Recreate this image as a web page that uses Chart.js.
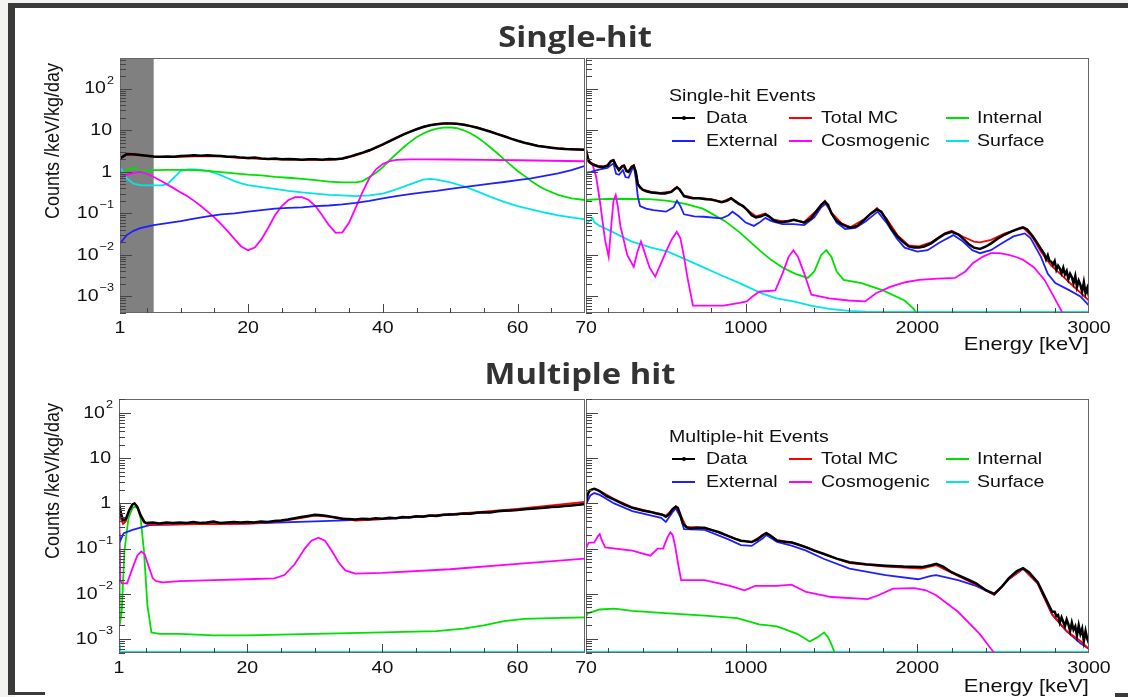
<!DOCTYPE html>
<html>
<head>
<meta charset="utf-8">
<title>Single-hit / Multiple hit energy spectra</title>
<script src="https://cdn.jsdelivr.net/npm/chart.js@4.4.1/dist/chart.umd.min.js"></script>
<style>
  html, body { margin: 0; padding: 0; }
  body { width: 1128px; height: 697px; position: relative; overflow: hidden; background: #f3f3f1; font-family: "Liberation Sans", Arial, sans-serif; }
  #sheet { position: absolute; left: 15px; top: 8px; width: 1113px; height: 689px; background: #fff; }
  .blk { position: absolute; background: #3a3a3a; }
  canvas { position: absolute; }
  .title { position: absolute; font-family: "Open Sans", sans-serif; font-weight: 700; font-size: 28px; color: #333; white-space: nowrap; transform: translate(-50%, -50%) scaleX(1.17); }
  .ytitle { position: absolute; font-size: 18px; color: #111; white-space: nowrap; transform: translate(-50%, -50%) rotate(-90deg) scaleY(1.15); }
  .xtitle { position: absolute; font-size: 19px; color: #111; white-space: nowrap; line-height: 22px; transform-origin: right center; transform: scaleX(1.15); }
  .leg { position: absolute; font-size: 17px; color: #111; white-space: nowrap; line-height: 20px; transform-origin: left center; transform: scaleX(1.15); }
  .sample { position: absolute; height: 2px; width: 23px; }
  .dot { position: absolute; width: 4px; height: 4px; background: #000; border-radius: 2px; }
</style>
</head>
<body>
<div id="sheet"></div>
<div class="blk" style="left:8px;top:3px;width:1120px;height:5px"></div>
<div class="blk" style="left:8px;top:3px;width:7px;height:692px"></div>
<div class="blk" style="left:8px;top:692px;width:37px;height:3px"></div>
<div class="blk" style="left:1115px;top:693px;width:13px;height:4px"></div>

<script>
// ---- series names / colours (ROOT palette) ----
const seriesNames = ['Data', 'Total MC', 'External', 'Cosmogenic', 'Internal', 'Surface'];
const seriesColors = ['#000000', '#ff0000', '#2020ff', '#ff00ff', '#00e000', '#00e5e5'];
const legendOrder = ['Data', 'Total MC', 'Internal', 'External', 'Cosmogenic', 'Surface'];

// ---- axis ticks ----
const lowTickLabels = [1, 20, 40, 60];
const lowTicksMajor = [20, 40, 60];
const lowTicksMinor = [5, 10, 15, 25, 30, 35, 45, 50, 55, 65];
const highTickLabels = [70, 1000, 2000, 3000];
const highTicksMajor = [1000, 2000];
const highTicksMinor = [200, 400, 600, 800, 1200, 1400, 1600, 1800, 2200, 2400, 2600, 2800];
const shadedRange = [1, 6];

// ================= SINGLE-HIT, 1-70 keV =================
const lowGrid = [1,2,3,4,5,6,7,8,9,10,11,12,13,14,15,16,17,18,19,20,21,22,23,24,25,26,27,28,29,30,31,32,33,34,35,
  36,37,38,39,40,41,42,43,44,45,46,47,48,49,50,51,52,53,54,55,56,57,58,59,60,61,62,63,64,65,66,67,68,69,70];
const sLoData = [2.1,2.7,2.65,2.55,2.45,2.35,2.3,2.35,2.3,2.4, 2.45,2.5,2.45,2.5,2.45,2.4,2.3,2.3,2.2,2.15,
  2.2,2.1,2.05,2.1,2.0,2.05,2.0,1.95,2.0,2.0, 1.95,2.05,2.0,2.1,2.3,2.6,2.9,3.3,3.9,4.6,
  5.5,6.6,7.9,9.2,10.6,12.0,13.2,14.0,14.6,14.6, 14.3,13.6,12.6,11.5,10.3,9.2,8.1,7.2,6.3,5.6,
  5.0,4.6,4.2,4.0,3.8,3.65,3.55,3.5,3.45,3.4];
const sLoMcE = [1,2,4,6,8,10,12,14,16,18,20,24,28,32,34,36,38,40,42,44,46,48,50,52,54,56,58,60,62,64,66,68,70];
const sLoMc = [2.0,2.6,2.5,2.3,2.25,2.3,2.35,2.4,2.35,2.2,2.1,2.0,1.95,1.95,2.05,2.5,3.2,4.5,6.5,9.2,12.2,14.3,14.8,13.8,11.7,9.3,7.2,5.6,4.6,4.0,3.7,3.5,3.4];
const sLoExtE = [1,2,3,4,5,6,8,10,12,14,16,18,20,22,24,26,28,30,32,34,36,38,40,42,44,46,48,50,52,54,56,58,60,62,64,66,68,70];
const sLoExt = [0.019,0.03,0.038,0.044,0.048,0.052,0.058,0.065,0.075,0.085,0.095,0.1,0.11,0.12,0.13,0.135,0.14,0.15,0.155,0.165,
  0.18,0.2,0.23,0.26,0.29,0.32,0.35,0.39,0.43,0.47,0.52,0.57,0.63,0.7,0.8,0.92,1.1,1.4];
const sLoCosE = [1,2,3,4,5,6,7,8,9,10,11,12,13,14,15,16,17,18,19,20,21,22,23,24,25,26,27,28,29,30,31,32,33,34,35,36,37,38,39,40,41,42,44,46,50,55,60,65,70];
const sLoCos = [0.75,0.85,0.95,1.0,0.9,0.75,0.62,0.5,0.4,0.32,0.26,0.2,0.15,0.11,0.08,0.055,0.037,0.024,0.016,0.013,
  0.015,0.024,0.045,0.09,0.15,0.21,0.245,0.245,0.21,0.15,0.09,0.052,0.034,0.035,0.06,0.14,0.33,0.7,1.15,1.55,
  1.8,1.95,2.0,2.0,1.98,1.95,1.9,1.85,1.8];
const sLoIntE = [1,2,3,4,5,6,8,10,12,14,16,18,20,22,24,26,28,30,32,34,36,37,38,39,40,41,42,43,44,45,46,47,48,49,50,
  51,52,53,54,55,56,57,58,59,60,61,62,63,64,66,68,70];
const sLoInt = [0.72,1.1,1.25,1.05,1.05,1.1,1.12,1.12,1.1,1.05,0.98,0.92,0.86,0.82,0.76,0.72,0.68,0.63,0.58,0.56,0.56,0.6,0.75,0.95,1.3,
  1.9,2.7,3.8,5.2,6.8,8.4,9.8,11,11.6,11.7, 11.2,10,8.5,6.8,5.2,3.8,2.8,2.0,1.45,1.05,0.8,0.6,0.47,0.38,0.28,0.23,0.21];
const sLoSurfE = [1,2,3,4,5,6,7,8,9,10,11,12,13,14,15,16,17,18,19,20,22,24,26,28,30,32,34,36,38,40,42,44,46,47,48,50,52,54,56,58,60,62,64,66,68,70];
const sLoSurf = [1.3,0.7,0.52,0.48,0.47,0.47,0.47,0.5,0.72,1.05,1.15,1.15,1.12,1.05,0.95,0.82,0.7,0.6,0.53,0.48,
  0.43,0.39,0.35,0.32,0.3,0.28,0.27,0.26,0.27,0.3,0.38,0.5,0.65,0.68,0.65,0.56,0.45,0.34,0.25,0.19,0.15,0.125,0.105,0.09,0.08,0.072];

// ================= SINGLE-HIT, 70-3000 keV =================
const sHiDataE = [70,80,90,110,140,170,195,215,230,245,262,280,292,305,318,335,348,360,372,385,400,421,450,480,505,530,567,585,600,615,641,670,693,730,770,800,830,860,890,915,935,960,985,
  1010,1035,1060,1090,1115,1135,1160,1185,1215,1250,1280,1310,1341,1380,1410,1440,1462,1480,1500,1530,1560,1590,1612,1650,1690,1730,1765,1790,1820,1850,1884,1920,1950,1980,
  2010,2040,2080,2120,2160,2200,2240,2270,2300,2330,2365,2400,2430,2470,2510,2550,2590,2615,2640,2670,2700,2720,
  2740,2750,2760,2770,2780,2790,2800,2810,2820,2830,2840,2850,2860,2870,2880,2890,2900,2910,2920,2930,2940,2950,2960,2970,2980,2990,3000];
const sHiData = [3.4,2.2,1.7,1.5,1.35,1.3,1.4,1.8,1.9,1.4,1.1,1.35,1.4,1.05,1.0,1.3,1.4,1.0,0.5,0.42,0.37,0.34,0.32,0.31,0.3,0.3,0.33,0.38,0.42,0.38,0.26,0.24,0.23,0.23,0.22,0.215,0.2,0.185,0.2,0.23,0.2,0.17,0.15,
  0.12,0.09,0.08,0.085,0.095,0.085,0.07,0.063,0.062,0.065,0.07,0.065,0.06,0.075,0.11,0.16,0.19,0.16,0.1,0.066,0.055,0.048,0.045,0.05,0.07,0.1,0.125,0.11,0.07,0.042,0.028,0.02,0.016,0.015,
  0.015,0.016,0.019,0.025,0.032,0.036,0.031,0.024,0.018,0.015,0.014,0.016,0.019,0.025,0.031,0.037,0.043,0.046,0.041,0.029,0.019,0.014,
  0.0105,0.0078,0.0098,0.0072,0.0069,0.0058,0.0071,0.0044,0.0055,0.0047,0.0036,0.0049,0.0034,0.0041,0.0026,0.0035,0.0029,0.0021,0.0031,0.0017,0.0024,0.0019,0.0013,0.0022,0.0012,0.0016,0.0010];
const sHiMcE = [70,80,90,110,140,170,195,215,230,245,262,280,292,305,318,335,348,360,372,385,400,450,505,567,600,641,693,770,830,860,915,960,1010,1060,1115,1160,1215,1280,1341,1410,1462,1500,
  1560,1612,1690,1765,1820,1884,1950,2010,2080,2160,2200,2270,2330,2365,2430,2510,2590,2620,2670,2720,2780,2850,2920,3000];
const sHiMc = [3.5,2.3,1.8,1.55,1.4,1.35,1.45,1.85,1.95,1.45,1.15,1.4,1.45,1.1,1.05,1.35,1.45,1.05,0.52,0.44,0.38,0.33,0.31,0.34,0.44,0.27,0.24,0.225,0.205,0.19,0.235,0.175,0.12,0.085,0.1,0.072,0.064,0.07,0.062,0.115,0.2,0.105,
  0.057,0.047,0.072,0.135,0.075,0.03,0.017,0.016,0.02,0.033,0.038,0.027,0.021,0.02,0.023,0.033,0.042,0.044,0.027,0.012,0.0055,0.003,0.0016,0.0008];
const sHiExtE = [70,100,150,195,215,230,245,262,285,300,318,340,350,360,372,385,420,463,536,580,600,620,641,700,755,860,900,923,960,1000,1048,1080,1115,1150,1215,1280,1341,1400,1440,1466,1490,
  1530,1580,1640,1700,1769,1820,1880,1926,2000,2060,2130,2210,2260,2320,2365,2428,2500,2560,2626,2660,2720,2760,2804,2887,2950,3000];
const sHiExt = [0.95,1.0,1.15,1.25,1.45,1.6,0.9,0.85,1.1,0.75,0.72,1.2,1.25,0.7,0.25,0.15,0.13,0.12,0.11,0.14,0.2,0.15,0.095,0.085,0.083,0.076,0.09,0.11,0.085,0.06,0.05,0.06,0.078,0.065,0.055,0.055,0.052,0.08,0.14,0.17,0.12,
  0.06,0.042,0.045,0.065,0.11,0.06,0.025,0.015,0.012,0.013,0.02,0.03,0.022,0.013,0.011,0.013,0.02,0.028,0.033,0.025,0.009,0.0035,0.0021,0.0014,0.001,0.0006];
const sHiCosE = [70,90,108,129,150,170,181,202,215,230,243,255,270,285,310,348,370,390,410,440,473,505,536,570,599,620,641,660,693,755,870,965,1006,1040,1079,1173,1215,1250,1278,1305,1341,1383,
  1487,1600,1696,1759,1842,1930,2010,2120,2219,2280,2323,2380,2428,2480,2532,2580,2616,2680,2741,2800,2846];
const sHiCos = [1.9,1.7,1.5,0.76,0.21,0.05,0.023,0.009,0.04,0.2,0.275,0.15,0.05,0.028,0.01,0.0052,0.012,0.021,0.012,0.005,0.003,0.006,0.012,0.024,0.036,0.025,0.009,0.003,0.0006,0.0006,0.0006,0.0007,0.00076,0.001,0.0013,0.0014,0.0036,0.009,0.013,0.009,0.0036,0.0011,
  0.0009,0.0008,0.00076,0.0012,0.0017,0.0022,0.0025,0.0027,0.0028,0.004,0.0063,0.009,0.011,0.011,0.01,0.0088,0.0076,0.005,0.0025,0.0009,0.0004];
const sHiIntE = [70,150,250,440,550,650,750,800,880,965,1030,1090,1150,1215,1290,1362,1400,1440,1470,1500,1530,1571,1675,1800,1926,1980,2010];
const sHiInt = [0.21,0.22,0.225,0.22,0.2,0.17,0.13,0.1,0.065,0.035,0.02,0.012,0.0075,0.005,0.0035,0.0028,0.004,0.01,0.013,0.009,0.004,0.0025,0.0021,0.0014,0.0008,0.0005,0.0003];
const sHiSurfE = [70,90,108,120,150,200,337,450,547,650,755,860,965,1090,1180,1278,1380,1487,1600,1700,1760,3000];
const sHiSurf = [0.057,0.065,0.076,0.06,0.05,0.04,0.021,0.015,0.012,0.0078,0.005,0.0032,0.0021,0.0012,0.0009,0.00076,0.0006,0.0005,0.00045,0.00043,0.000425,0.000425];

// ================= MULTIPLE HIT, 1-70 keV =================
const mLoDataE = [1,1.3,1.6,2,2.5,3,3.3,3.7,4.2,4.7,5,6,7,8,9,10,11,12,13,14,15,16,17,18,19,20,21,22,23,24,25,26,27,28,29,30,31,32,33,34,35,
  36,37,38,39,40,41,42,43,44,45,46,47,48,49,50,51,52,53,54,55,56,57,58,59,60,61,62,63,64,65,66,67,68,69,70];
const mLoData = [1.0,0.6,0.42,0.45,0.7,0.95,1.0,0.85,0.55,0.4,
  0.37,0.38,0.36,0.38,0.37,0.38,0.37,0.39,0.37,0.38, 0.4,0.37,0.38,0.39,0.38,0.39,0.38,0.4,0.39,0.41,
  0.42,0.44,0.47,0.5,0.53,0.56,0.55,0.52,0.49,0.46, 0.45,0.44,0.46,0.45,0.47,0.46,0.48,0.47,0.5,0.49,
  0.52,0.51,0.54,0.53,0.56,0.57,0.58,0.6,0.59,0.62, 0.64,0.63,0.67,0.69,0.7,0.72,0.74,0.76,0.78,0.8,
  0.83,0.85,0.88,0.9,0.94,0.98];
const mLoMcE = [1,1.3,1.6,2,2.5,3,3.3,3.7,4.2,4.7,5.5,8,12,16,20,24,27,30,33,36,40,45,50,55,60,65,70];
const mLoMc = [0.9,0.45,0.35,0.4,0.7,0.95,1.0,0.85,0.52,0.38,0.34,0.34,0.35,0.35,0.36,0.39,0.45,0.54,0.5,0.42,0.45,0.52,0.58,0.66,0.76,0.9,1.08];
const mLoExtE = [1,1.2,1.7,3,5.5,8,12,20,30,40,50,60,70];
const mLoExt = [0.24,0.15,0.22,0.26,0.33,0.34,0.35,0.36,0.4,0.45,0.56,0.72,0.95];
const mLoCosE = [1,1.2,1.4,2.2,3,3.7,4.3,4.8,5.4,6,6.5,7.5,10,15,20,24,25.5,27,28.5,29.5,30.5,31.5,32.5,33.5,34.5,36,40,50,60,70];
const mLoCos = [1.2,0.02,0.017,0.017,0.037,0.07,0.087,0.075,0.04,0.022,0.019,0.018,0.019,0.02,0.021,0.022,0.026,0.045,0.1,0.15,0.175,0.15,0.09,0.05,0.033,0.028,0.029,0.035,0.046,0.06];
const mLoIntE = [1,1.1,1.4,1.8,2.4,3,3.4,3.8,4.2,4.7,5.2,5.8,7,10,15,20,30,40,48,52,55,58,61,65,70];
const mLoInt = [0.03,0.002,0.004,0.087,0.47,0.8,0.86,0.75,0.47,0.087,0.0057,0.0014,0.0013,0.0013,0.0012,0.0012,0.0013,0.0014,0.0015,0.0017,0.002,0.0025,0.0028,0.0029,0.003];
const mLoSurfE = [1,1.2,70];
const mLoSurf = [0.001,0.00052,0.00052];

// ================= MULTIPLE HIT, 70-3000 keV =================
const mHiDataE = [70,80,90,105,118,135,150,190,234,290,340,400,445,480,508,520,535,555,575,593,605,620,635,655,677,720,761,800,846,900,940,972,1000,1035,1070,1100,1120,1140,1183,1230,1267,1300,1352,1400,1457,
  1530,1605,1700,1815,1920,2026,2080,2110,2150,2200,2237,2290,2342,2400,2448,2490,2532,2580,2616,2650,2701,2740,2785,
  2800,2810,2820,2830,2840,2850,2860,2870,2880,2890,2900,2910,2920,2930,2940,2950,2960,2970,2980,2990,3000];
const mHiData = [1.03,1.6,1.9,2.05,2.1,2.0,1.86,1.45,1.22,0.95,0.8,0.7,0.65,0.6,0.57,0.55,0.51,0.58,0.75,0.85,0.8,0.55,0.36,0.3,0.28,0.29,0.29,0.26,0.23,0.19,0.165,0.15,0.145,0.14,0.16,0.2,0.22,0.2,0.15,0.14,0.137,0.125,0.107,0.09,0.076,
  0.06,0.05,0.045,0.042,0.04,0.039,0.043,0.046,0.04,0.03,0.026,0.021,0.017,0.012,0.01,0.014,0.022,0.032,0.037,0.03,0.018,0.009,0.004,
  0.0040,0.0032,0.0034,0.0023,0.0030,0.0024,0.0019,0.0027,0.0021,0.0015,0.0023,0.0016,0.0019,0.0012,0.0020,0.0013,0.0017,0.0009,0.0015,0.0010,0.0008];
const mHiMcE = [70,90,118,150,234,340,445,508,535,575,593,620,655,720,800,900,972,1035,1100,1120,1183,1267,1352,1457,1605,1815,2026,2110,2237,2342,2448,2532,2616,2701,2785,2869,2950,3000];
const mHiMc = [1.1,1.95,2.1,1.9,1.25,0.82,0.66,0.58,0.53,0.76,0.86,0.56,0.3,0.3,0.26,0.19,0.15,0.14,0.2,0.225,0.155,0.14,0.11,0.075,0.048,0.04,0.036,0.043,0.025,0.016,0.0095,0.021,0.036,0.017,0.0035,0.0015,0.0009,0.0006];
const mHiExtE = [70,95,118,150,234,340,508,535,575,593,620,641,761,900,972,1035,1100,1120,1183,1267,1352,1457,1605,1815,2005,2080,2110,2237,2342,2448,2532,2616,2701,2785,2869,2950,3000];
const mHiExt = [0.95,1.5,1.7,1.55,1.0,0.68,0.48,0.39,0.65,0.78,0.5,0.27,0.26,0.16,0.12,0.115,0.17,0.2,0.14,0.116,0.09,0.059,0.036,0.026,0.021,0.025,0.026,0.02,0.015,0.0096,0.021,0.036,0.017,0.0035,0.0015,0.0008,0.0006];
const mHiCosE = [70,85,118,140,150,160,182,340,445,487,519,545,561,575,589,605,624,761,909,993,1056,1183,1267,1352,1499,1710,1773,1858,1984,2050,2110,2237,2363,2430,2469];
const mHiCos = [0.1,0.135,0.137,0.19,0.21,0.16,0.107,0.09,0.07,0.1,0.1,0.18,0.23,0.2,0.116,0.05,0.02,0.02,0.015,0.012,0.015,0.015,0.016,0.011,0.0085,0.0076,0.0093,0.013,0.0134,0.012,0.0093,0.004,0.0013,0.0006,0.0004];
const mHiIntE = [70,80,150,234,340,551,761,951,1078,1183,1300,1373,1420,1457,1480,1500,1541];
const mHiInt = [0.0031,0.0037,0.0045,0.0047,0.0042,0.0037,0.0033,0.0029,0.0021,0.0019,0.0013,0.00088,0.0011,0.0014,0.0011,0.00075,0.0003];
const mHiSurfE = [70,3000];
const mHiSurf = [0.00052,0.00052];

// ---------------------------------------------------------------
const STRETCH = 1.15;
function stretchText(ctx, txt, x, y, align) {
  const w = ctx.measureText(txt).width * STRETCH;
  const x0 = align === 'center' ? x - w / 2 : align === 'right' ? x - w : x;
  ctx.save();
  ctx.translate(x0, y);
  ctx.scale(STRETCH, 1);
  ctx.textAlign = 'left';
  ctx.fillText(txt, 0, 0);
  ctx.restore();
  return w;
}

// ROOT-like frame, inward ticks and labels
const rootAxes = {
  id: 'rootAxes',
  beforeDatasetsDraw(chart, args, o) {
    if (!o.shade) return;
    const { ctx, chartArea: a, scales: { x } } = chart;
    const x0 = x.getPixelForValue(o.shade[0]), x1 = x.getPixelForValue(o.shade[1]);
    ctx.save();
    ctx.fillStyle = '#808080';
    ctx.fillRect(x0, a.top, x1 - x0, a.bottom - a.top);
    ctx.restore();
  },
  afterDraw(chart, args, o) {
    const { ctx, chartArea: a, scales: { x, y } } = chart;
    ctx.save();
    ctx.strokeStyle = '#666';
    ctx.lineWidth = 1;
    ctx.strokeRect(a.left + 0.5, a.top + 0.5, a.right - a.left - 1, a.bottom - a.top - 1);

    ctx.strokeStyle = '#444';
    ctx.beginPath();
    o.xMinor.forEach(v => { const p = Math.round(x.getPixelForValue(v)) + 0.5; ctx.moveTo(p, a.bottom); ctx.lineTo(p, a.bottom - 5); });
    o.xMajor.forEach(v => { const p = Math.round(x.getPixelForValue(v)) + 0.5; ctx.moveTo(p, a.bottom); ctx.lineTo(p, a.bottom - 9); });
    for (let d = -4; d <= 3; d++) {
      for (let m = 1; m <= 9; m++) {
        const v = m * Math.pow(10, d);
        if (v < y.min || v > y.max) continue;
        const p = Math.round(y.getPixelForValue(v)) + 0.5;
        ctx.moveTo(a.left, p);
        ctx.lineTo(a.left + (m === 1 ? 12 : 6), p);
      }
    }
    ctx.stroke();

    ctx.fillStyle = '#111';
    ctx.textBaseline = 'middle';
    ctx.font = '17px "Liberation Sans", Arial, sans-serif';
    o.xLabels.forEach(v => stretchText(ctx, String(v), x.getPixelForValue(v), a.bottom + 15, 'center'));

    if (o.yLabels) {
      for (let d = -3; d <= 2; d++) {
        const p = y.getPixelForValue(Math.pow(10, d));
        const right = a.left - 6;
        ctx.font = '17px "Liberation Sans", Arial, sans-serif';
        if (d === 0) { stretchText(ctx, '1', right - 2, p, 'right'); continue; }
        if (d === 1) { stretchText(ctx, '10', right - 2, p, 'right'); continue; }
        const exp = d < 0 ? '\u2212' + (-d) : String(d);
        ctx.font = '11px "Liberation Sans", Arial, sans-serif';
        const ew = ctx.measureText(exp).width * STRETCH;
        stretchText(ctx, exp, right, p - 8, 'right');
        ctx.font = '17px "Liberation Sans", Arial, sans-serif';
        stretchText(ctx, '10', right - ew - 1, p, 'right');
      }
    }
    ctx.restore();
  }
};

function makeSeries(pairs) {
  return pairs.map((p, i) => ({
    label: seriesNames[i],
    data: p[0].map((e, k) => ({ x: e, y: p[1][k] })),
    borderColor: seriesColors[i],
    borderWidth: i === 0 ? 2.5 : 1.8,
    pointRadius: 0,
    tension: 0,
    fill: false,
    clip: 0
  }));
}

function makeChart(box, pad, xRange, yRange, pairs, axes) {
  const cv = document.createElement('canvas');
  cv.width = box[2]; cv.height = box[3];
  cv.style.left = box[0] + 'px'; cv.style.top = box[1] + 'px';
  document.body.appendChild(cv);
  return new Chart(cv, {
    type: 'line',
    data: { datasets: makeSeries(pairs) },
    options: {
      responsive: false,
      animation: false,
      devicePixelRatio: 1,
      events: [],
      layout: { padding: pad },
      plugins: { legend: { display: false }, tooltip: { enabled: false }, rootAxes: axes },
      scales: {
        x: { type: 'linear', min: xRange[0], max: xRange[1], display: false },
        y: { type: 'logarithmic', min: yRange[0], max: yRange[1], display: false }
      }
    },
    plugins: [rootAxes]
  });
}

const lowAxes = { xMajor: lowTicksMajor, xMinor: lowTicksMinor, xLabels: lowTickLabels, yLabels: true };
const highAxes = { xMajor: highTicksMajor, xMinor: highTicksMinor, xLabels: highTickLabels, yLabels: false };
const singleY = [4e-4, 550];
const multiY = [4.9e-4, 205];

makeChart([0, 0, 600, 360], { left: 120, top: 58, right: 15, bottom: 47 }, [1, 70], singleY,
  [[lowGrid, sLoData], [sLoMcE, sLoMc], [sLoExtE, sLoExt], [sLoCosE, sLoCos], [sLoIntE, sLoInt], [sLoSurfE, sLoSurf]],
  Object.assign({ shade: shadedRange }, lowAxes));
makeChart([540, 0, 588, 360], { left: 46, top: 58, right: 39, bottom: 47 }, [70, 3000], singleY,
  [[sHiDataE, sHiData], [sHiMcE, sHiMc], [sHiExtE, sHiExt], [sHiCosE, sHiCos], [sHiIntE, sHiInt], [sHiSurfE, sHiSurf]],
  highAxes);
makeChart([0, 360, 600, 337], { left: 119, top: 39, right: 15, bottom: 44 }, [1, 70], multiY,
  [[mLoDataE, mLoData], [mLoMcE, mLoMc], [mLoExtE, mLoExt], [mLoCosE, mLoCos], [mLoIntE, mLoInt], [mLoSurfE, mLoSurf]],
  lowAxes);
makeChart([540, 360, 588, 337], { left: 46, top: 39, right: 39, bottom: 44 }, [70, 3000], multiY,
  [[mHiDataE, mHiData], [mHiMcE, mHiMc], [mHiExtE, mHiExt], [mHiCosE, mHiCos], [mHiIntE, mHiInt], [mHiSurfE, mHiSurf]],
  highAxes);

// ---- HTML text: titles, axis titles, legends ----
function addDiv(cls, text, css) {
  const d = document.createElement('div');
  d.className = cls;
  if (text) d.textContent = text;
  Object.assign(d.style, css);
  document.body.appendChild(d);
  return d;
}
addDiv('title', 'Single-hit', { left: '575px', top: '36px' });
addDiv('title', 'Multiple hit', { left: '580px', top: '373px' });
addDiv('ytitle', 'Counts /keV/kg/day', { left: '53px', top: '141px' });
addDiv('ytitle', 'Counts /keV/kg/day', { left: '53px', top: '481px' });
addDiv('xtitle', 'Energy [keV]', { right: '39px', top: '333px' });
addDiv('xtitle', 'Energy [keV]', { right: '39px', top: '675px' });

function addLegend(header, y0) {
  const sampleX = [672, 789, 946], textX = [706, 821, 977];
  addDiv('leg', header, { left: '669px', top: (y0 - 10) + 'px' });
  legendOrder.forEach((name, k) => {
    const col = k % 3, row = Math.floor(k / 3);
    const cy = y0 + 22 + row * 23;
    const color = seriesColors[seriesNames.indexOf(name)];
    addDiv('sample', '', { left: sampleX[col] + 'px', top: (cy - 1) + 'px', background: color });
    if (name === 'Data') addDiv('dot', '', { left: (sampleX[col] + 10) + 'px', top: (cy - 2) + 'px' });
    addDiv('leg', name, { left: textX[col] + 'px', top: (cy - 10) + 'px' });
  });
}
addLegend('Single-hit Events', 96);
addLegend('Multiple-hit Events', 437);
</script>
</body>
</html>
